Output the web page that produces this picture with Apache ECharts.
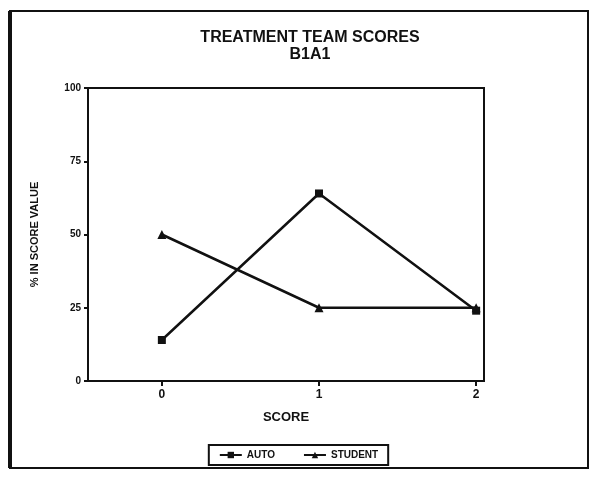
<!DOCTYPE html>
<html><head><meta charset="utf-8">
<script src="https://cdn.jsdelivr.net/npm/echarts@6/dist/echarts.min.js"></script>
<style>html,body{margin:0;padding:0;background:#fff}#c{width:597px;height:477px}</style>
</head><body><div id="c"></div>
<script>
const titleText = 'TREATMENT TEAM SCORES';
const subtitleText = 'B1A1';
const xTicks = [0, 1, 2];
const yTicks = [0, 25, 50, 75, 100];
const scores = [0, 1, 2];
const autoValues = [14, 64, 24];
const studentValues = [50, 25, 25];

const chart = echarts.init(document.getElementById('c'), null, {renderer: 'canvas'});
const font = 'Liberation Sans, Arial, sans-serif';
chart.setOption({
  animation: false,
  backgroundColor: '#fff',
  title: {
    text: titleText + '\n' + subtitleText,
    left: 305, top: 24, textAlign: 'center',
    textStyle: {fontFamily: font, fontWeight: 'bold', fontSize: 16, lineHeight: 17, color: '#111'}
  },
  graphic: [{
    type: 'rect', shape: {x: 10, y: 11, width: 578, height: 457},
    style: {fill: 'none', stroke: '#111', lineWidth: 2}, silent: true
  }, {
    type: 'line', shape: {x1: 10, y1: 11, x2: 10, y2: 468},
    style: {stroke: '#111', lineWidth: 4}, silent: true
  }],
  grid: {left: 88, right: 113, top: 88, bottom: 96, show: true, borderColor: '#111', borderWidth: 2, backgroundColor: 'transparent'},
  legend: {
    bottom: 12, left: 'center',
    data: ['AUTO', 'STUDENT'],
    itemWidth: 22, itemHeight: 8, itemGap: 28,
    borderColor: '#111', borderWidth: 2, padding: [5, 10, 5, 10],
    textStyle: {fontFamily: font, fontWeight: 'bold', fontSize: 10, color: '#111'}
  },
  xAxis: {
    type: 'value', min: -0.47, max: 2.05,
    name: 'SCORE', nameLocation: 'middle', nameGap: 30,
    nameTextStyle: {fontFamily: font, fontWeight: 'bold', fontSize: 13, color: '#111'},
    axisLine: {show: true, onZero: false, lineStyle: {color: '#111', width: 2}},
    axisTick: {show: true, customValues: xTicks, length: 5, inside: false, lineStyle: {color: '#111', width: 2}},
    axisLabel: {customValues: xTicks, fontFamily: font, fontWeight: 'bold', fontSize: 12, color: '#111', margin: 8},
    splitLine: {show: false}
  },
  yAxis: {
    type: 'value', min: 0, max: 100, interval: 25,
    name: '% IN SCORE VALUE', nameLocation: 'middle', nameGap: 48, nameRotate: 90,
    nameTextStyle: {fontFamily: font, fontWeight: 'bold', fontSize: 11, color: '#111'},
    axisLine: {show: true, onZero: false, lineStyle: {color: '#111', width: 2}},
    axisTick: {show: true, length: 4, lineStyle: {color: '#111', width: 2}},
    axisLabel: {fontFamily: font, fontWeight: 'bold', fontSize: 10, color: '#111', margin: 7},
    splitLine: {show: false}
  },
  series: [{
    name: 'AUTO', type: 'line',
    data: scores.map((s, i) => [s, autoValues[i]]),
    symbol: 'rect', symbolSize: 8,
    lineStyle: {color: '#111', width: 2.5},
    itemStyle: {color: '#111'}
  }, {
    name: 'STUDENT', type: 'line',
    data: scores.map((s, i) => [s, studentValues[i]]),
    symbol: 'triangle', symbolSize: 9,
    lineStyle: {color: '#111', width: 2.5},
    itemStyle: {color: '#111'}
  }]
});
</script></body></html>
